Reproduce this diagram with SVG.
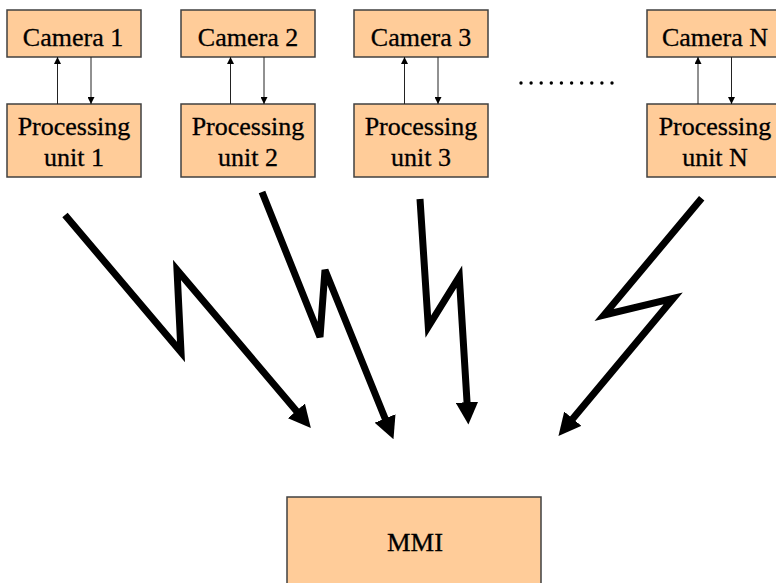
<svg xmlns="http://www.w3.org/2000/svg" width="776" height="583" viewBox="0 0 776 583">
  <style>
    .box { fill: #FFCC99; stroke: #404040; stroke-width: 1.5; }
    .lbl { font-family: "Liberation Serif", "Times New Roman", serif; font-size: 26px; fill: #000; stroke: #000; stroke-width: 0.3; text-anchor: middle; }
    .link { stroke: #222; stroke-width: 1; fill: none; }
    .bolt { stroke: #000; stroke-width: 7; fill: none; stroke-linejoin: miter; stroke-miterlimit: 4; }
  </style>
  <defs>
    <marker id="thin" viewBox="0 0 10 10" refX="10" refY="5" markerWidth="7" markerHeight="7" markerUnits="userSpaceOnUse" orient="auto">
      <path d="M0,0 L10,5 L0,10 z" fill="#000"/>
    </marker>
    <marker id="big" viewBox="0 0 10 10" refX="0.5" refY="5" markerWidth="3.2" markerHeight="3.2" orient="auto">
      <path d="M0,0 L10,5 L0,10 z" fill="#000"/>
    </marker>
  </defs>
  <rect width="776" height="583" fill="#fff"/>

  <!-- camera / processing-unit pairs -->
  <g id="camera1"><rect class="box" x="7" y="10" width="134" height="47"/><text class="lbl" x="73" y="45.5">Camera 1</text></g>
  <g id="unit1"><rect class="box" x="7" y="104" width="134" height="73"/><text class="lbl" x="74" y="135">Processing</text><text class="lbl" x="74" y="166">unit 1</text></g>

  <g id="camera2"><rect class="box" x="181" y="10" width="134" height="47"/><text class="lbl" x="248" y="45.5">Camera 2</text></g>
  <g id="unit2"><rect class="box" x="181" y="104" width="134" height="73"/><text class="lbl" x="248" y="135">Processing</text><text class="lbl" x="248" y="166">unit 2</text></g>

  <g id="camera3"><rect class="box" x="354" y="10" width="134" height="47"/><text class="lbl" x="421" y="45.5">Camera 3</text></g>
  <g id="unit3"><rect class="box" x="354" y="104" width="134" height="73"/><text class="lbl" x="421" y="135">Processing</text><text class="lbl" x="421" y="166">unit 3</text></g>

  <g id="cameraN"><rect class="box" x="647" y="10" width="134" height="47"/><text class="lbl" x="715" y="45.5">Camera N</text></g>
  <g id="unitN"><rect class="box" x="647" y="104" width="134" height="73"/><text class="lbl" x="715" y="135">Processing</text><text class="lbl" x="715" y="166">unit N</text></g>

  <g id="mmi"><rect class="box" x="287" y="497" width="254" height="95"/><text class="lbl" x="415" y="551" font-size="25" textLength="56" lengthAdjust="spacingAndGlyphs">MMI</text></g>

  <!-- ellipsis between unit 3 and unit N -->
  <g id="ellipsis" fill="#000">
    <circle cx="521" cy="83" r="1.7"/><circle cx="531.1" cy="83" r="1.7"/><circle cx="541.2" cy="83" r="1.7"/>
    <circle cx="551.3" cy="83" r="1.7"/><circle cx="561.4" cy="83" r="1.7"/><circle cx="571.6" cy="83" r="1.7"/>
    <circle cx="581.7" cy="83" r="1.7"/><circle cx="591.8" cy="83" r="1.7"/><circle cx="601.9" cy="83" r="1.7"/>
    <circle cx="612" cy="83" r="1.7"/>
  </g>

  <g id="connectors">
    <!-- camera <-> processing unit links -->
    <line class="link" x1="57.5" y1="104" x2="57.5" y2="57" marker-end="url(#thin)"/>
    <line class="link" x1="91" y1="57" x2="91" y2="104" marker-end="url(#thin)"/>
    <line class="link" x1="230.5" y1="104" x2="230.5" y2="57" marker-end="url(#thin)"/>
    <line class="link" x1="264" y1="57" x2="264" y2="104" marker-end="url(#thin)"/>
    <line class="link" x1="404.5" y1="104" x2="404.5" y2="57" marker-end="url(#thin)"/>
    <line class="link" x1="438" y1="57" x2="438" y2="104" marker-end="url(#thin)"/>
    <line class="link" x1="698" y1="104" x2="698" y2="57" marker-end="url(#thin)"/>
    <line class="link" x1="731.5" y1="57" x2="731.5" y2="104" marker-end="url(#thin)"/>

    <!-- wireless links to the MMI -->
    <polyline class="bolt" points="65,215 181,352 177,270 297.1,411.7" marker-end="url(#big)"/>
    <polyline class="bolt" points="262,192 320,337 325,270 385.5,419.5" marker-end="url(#big)"/>
    <polyline class="bolt" points="420,199 428.3,326.7 459.3,276.7 467.1,403.3" marker-end="url(#big)"/>
    <polyline class="bolt" points="701.7,198.3 604,315 673.3,298.3 572.1,419.6" marker-end="url(#big)"/>
  </g>
</svg>
